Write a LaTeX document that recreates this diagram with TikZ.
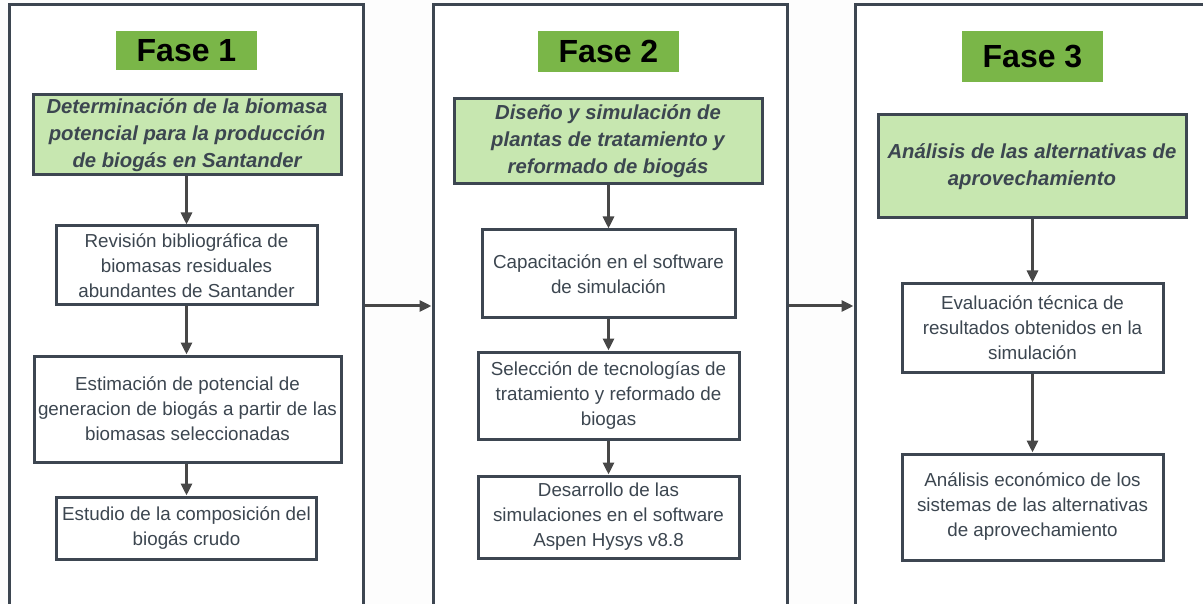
\documentclass[tikz,border=0pt]{standalone}
\usepackage{fontspec}
\setmainfont{Liberation Sans}
\usetikzlibrary{arrows.meta}
\definecolor{edge}{HTML}{3D4651}
\definecolor{txt}{HTML}{3C4650}
\definecolor{fasegreen}{HTML}{7AB648}
\definecolor{lightgreen}{HTML}{C7E7B0}
\definecolor{arrowgray}{HTML}{474747}
\definecolor{bg}{HTML}{FDFDFD}
\tikzset{
  panel/.style={draw=edge, line width=3pt, fill=white, inner sep=0pt},
  fasebox/.style={fill=fasegreen, inner sep=0pt, font=\fontsize{32}{36}\selectfont\bfseries, text=black},
  titlebox/.style={draw=edge, line width=3pt, fill=lightgreen, inner sep=0pt, align=center,
    text=txt, font=\fontsize{20.3}{27}\selectfont\bfseries\itshape},
  stepbox/.style={draw=edge, line width=3pt, fill=white, inner sep=0pt, align=center,
    text=txt, font=\fontsize{18.8}{25}\selectfont},
  flow/.style={draw=arrowgray, line width=3pt, -{Triangle[length=12pt,width=11pt]}},
}
\begin{document}
\begin{tikzpicture}[x=1pt,y=-1pt]
\fill[bg] (0,0) rectangle (1203,604);
\useasboundingbox (0,0) rectangle (1203,604);
% panels
\node[panel, minimum width=354pt, minimum height=640pt] (p1) at (186,325) {};
\node[panel, minimum width=354pt, minimum height=640pt] (p2) at (610,325) {};
\node[panel, minimum width=362pt, minimum height=640pt] (p3) at (1036,325) {};
% phase labels
\node[fasebox, minimum width=141pt, minimum height=39pt] (f1) at (186.5,50.5) {Fase 1};
\node[fasebox, minimum width=141pt, minimum height=41pt] (f2) at (608.5,51.5) {Fase 2};
\node[fasebox, minimum width=141pt, minimum height=51pt] (f3) at (1032.5,56.5) {Fase 3};
% titles
\node[titlebox, minimum width=308pt, minimum height=80pt] (t1) at (187,135)
  {Determinación de la biomasa\\potencial para la producción\\de biogás en Santander};
\node[titlebox, minimum width=308pt, minimum height=85pt] (t2) at (608,141.5)
  {Diseño y simulación de\\plantas de tratamiento y\\reformado de biogás};
\node[titlebox, minimum width=308pt, minimum height=103pt] (t3) at (1032,166.5)
  {Análisis de las alternativas de\\aprovechamiento};
% phase 1 steps
\node[stepbox, minimum width=261pt, minimum height=79pt] (a1) at (186.5,265.5)
  {Revisión bibliográfica de\\biomasas residuales\\abundantes de Santander};
\node[stepbox, minimum width=307pt, minimum height=106pt] (a2) at (187.5,409)
  {Estimación de potencial de\\generacion de biogás a partir de las\\biomasas seleccionadas};
\node[stepbox, minimum width=260pt, minimum height=62pt] (a3) at (186.5,528)
  {Estudio de la composición del\\biogás crudo};
% phase 2 steps
\node[stepbox, minimum width=253pt, minimum height=88pt] (b1) at (608.5,274)
  {Capacitación en el software\\de simulación};
\node[stepbox, minimum width=261pt, minimum height=87pt] (b2) at (608.5,395.5)
  {Selección de tecnologías de\\tratamiento y reformado de\\biogas};
\node[stepbox, minimum width=261pt, minimum height=82pt] (b3) at (608.5,517)
  {Desarrollo de las\\simulaciones en el software\\Aspen Hysys v8.8};
% phase 3 steps
\node[stepbox, minimum width=261pt, minimum height=88pt] (c1) at (1032.5,328)
  {Evaluación técnica de\\resultados obtenidos en la\\simulación};
\node[stepbox, minimum width=261pt, minimum height=106pt] (c2) at (1032.5,507)
  {Análisis económico de los\\sistemas de las alternativas\\de aprovechamiento};
% vertical flows
\draw[flow] (t1.south -| a1) -- (a1.north);
\draw[flow] (a1.south) -- (a1.south |- a2.north);
\draw[flow] (a2.south -| a3) -- (a3.north);
\draw[flow] (t2.south -| b1) -- (b1.north);
\draw[flow] (b1.south) -- (b1.south |- b2.north);
\draw[flow] (b2.south) -- (b3.north);
\draw[flow] (t3.south -| c1) -- (c1.north);
\draw[flow] (c1.south) -- (c2.north);
% panel-to-panel flows
\coordinate (y0) at (0,306);
\draw[flow] (p1.east |- y0) -- (p2.west |- y0);
\draw[flow] (p2.east |- y0) -- (p3.west |- y0);
\end{tikzpicture}
\end{document}
